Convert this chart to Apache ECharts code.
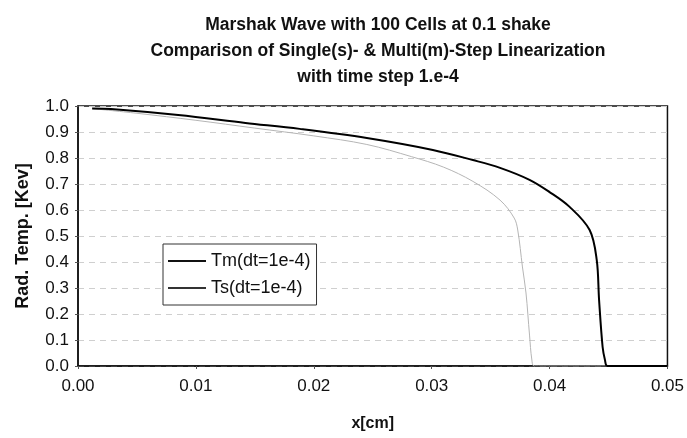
<!DOCTYPE html>
<html>
<head>
<meta charset="utf-8">
<script src="https://cdn.jsdelivr.net/npm/echarts@6/dist/echarts.min.js"></script>
<style>
  html, body { margin: 0; padding: 0; background: #fff; }
  #chart { width: 687px; height: 438px; }
</style>
</head>
<body>
<div id="chart"></div>
<script>
// x [cm], radiation temperature [keV]
const tmPoints = [
  [0.0012, 0.99], [0.0028, 0.988], [0.0085, 0.965], [0.0142, 0.935],
  [0.0188, 0.912], [0.0245, 0.877], [0.0301, 0.831], [0.0335, 0.792],
  [0.0358, 0.762], [0.0383, 0.716], [0.04, 0.669], [0.0417, 0.612],
  [0.0434, 0.523], [0.044, 0.408], [0.0442, 0.254], [0.0445, 0.073],
  [0.0447, 0.023], [0.0449, 0], [0.05, 0]
];
const tsPoints = [
  [0.0012, 0.99], [0.005, 0.972], [0.01, 0.945], [0.015, 0.915],
  [0.02, 0.885], [0.0245, 0.852], [0.0283, 0.805], [0.031, 0.765],
  [0.0335, 0.71], [0.0358, 0.638], [0.037, 0.569], [0.0373, 0.523],
  [0.0377, 0.381], [0.038, 0.281], [0.0383, 0.119], [0.0385, 0.023],
  [0.0387, 0], [0.05, 0]
];
const seriesNames = ["Tm(dt=1e-4)", "Ts(dt=1e-4)"];
const titleLines = [
  "Marshak Wave with 100 Cells at 0.1 shake",
  "Comparison of Single(s)- & Multi(m)-Step Linearization",
  "with time step 1.e-4"
];

const chart = echarts.init(document.getElementById("chart"));
const font = "Liberation Sans, Arial, sans-serif";

chart.setOption({
  backgroundColor: "#fff",
  animation: false,
  title: {
    text: titleLines.join("\n"),
    left: 373,
    top: 7,
    textAlign: "center",
    textStyle: {
      fontFamily: font,
      fontSize: 17.5,
      fontWeight: "bold",
      color: "#111",
      lineHeight: 26,
    },
  },
  grid: {
    left: 78,
    right: 19,
    top: 106,
    bottom: 72,
    show: true,
    borderColor: "#111",
    borderWidth: 1.5,
    backgroundColor: "#fff",
  },
  legend: {
    orient: "vertical",
    left: 163,
    top: 244,
    itemWidth: 38,
    itemHeight: 2,
    itemGap: 9,
    padding: [8, 6, 8, 5],
    borderColor: "#333",
    borderWidth: 1,
    backgroundColor: "#fff",
    textStyle: { fontFamily: font, fontSize: 18, color: "#111" },
    data: [
      { name: seriesNames[0], icon: "rect", itemStyle: { color: "#111" } },
      { name: seriesNames[1], icon: "rect", itemStyle: { color: "#333" } },
    ],
  },
  xAxis: {
    type: "value",
    min: 0,
    max: 0.05,
    interval: 0.01,
    name: "x[cm]",
    nameLocation: "middle",
    nameGap: 50,
    nameTextStyle: { fontFamily: font, fontSize: 16, fontWeight: "bold", color: "#111" },
    axisLine: { show: true, onZero: false, lineStyle: { color: "#111", width: 1.5 } },
    axisTick: { show: true, length: 3, lineStyle: { color: "#555" } },
    axisLabel: {
      fontFamily: font,
      fontSize: 17,
      color: "#111",
      margin: 12,
      formatter: (v) => v.toFixed(2),
    },
    splitLine: { show: false },
  },
  yAxis: {
    type: "value",
    min: 0,
    max: 1,
    interval: 0.1,
    name: "Rad. Temp. [Kev]",
    nameLocation: "middle",
    nameGap: 46,
    nameTextStyle: { fontFamily: font, fontSize: 18, fontWeight: "bold", color: "#111" },
    axisLine: { show: true, lineStyle: { color: "#111", width: 1.5 } },
    axisTick: { show: true, length: 3, lineStyle: { color: "#555" } },
    axisLabel: {
      fontFamily: font,
      fontSize: 17,
      color: "#111",
      margin: 9,
      formatter: (v) => v.toFixed(1),
    },
    splitLine: { show: true, lineStyle: { color: "#cfcfcf", type: [6, 5], width: 1 } },
  },
  series: [
    {
      name: seriesNames[0],
      type: "line",
      data: tmPoints,
      showSymbol: false,
      smooth: 0.35,
      lineStyle: { color: "#000", width: 2 },
      itemStyle: { color: "#000" },
      z: 3,
    },
    {
      name: seriesNames[1],
      type: "line",
      data: tsPoints,
      showSymbol: false,
      smooth: 0.35,
      lineStyle: { color: "#b5b5b5", width: 1 },
      itemStyle: { color: "#444" },
      z: 2,
    },
  ],
});
</script>
</body>
</html>
